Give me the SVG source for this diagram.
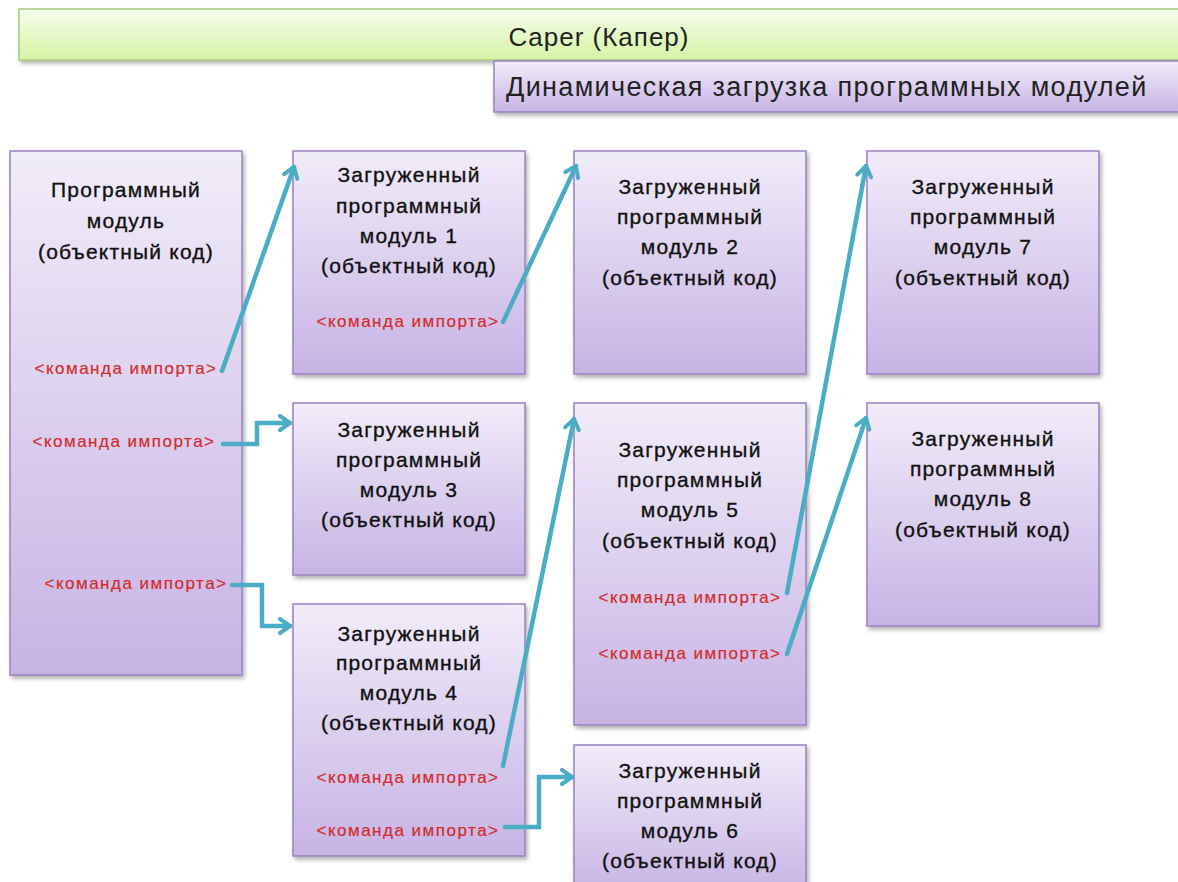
<svg xmlns="http://www.w3.org/2000/svg" width="1178" height="882" viewBox="0 0 1178 882">
<defs>
<linearGradient id="gp" x1="0" y1="0" x2="0" y2="1">
<stop offset="0" stop-color="#f1ecf9"/>
<stop offset="1" stop-color="#c7b3e5"/>
</linearGradient>
<linearGradient id="gg" x1="0" y1="0" x2="0" y2="1">
<stop offset="0" stop-color="#f5fdea"/>
<stop offset="1" stop-color="#d5f4a4"/>
</linearGradient>
<filter id="sh" x="-10%" y="-10%" width="130%" height="130%">
<feDropShadow dx="2" dy="3" stdDeviation="2" flood-color="#000" flood-opacity="0.3"/>
</filter>
<marker id="ah" viewBox="0 0 18 18" refX="14" refY="9" markerWidth="18" markerHeight="18" markerUnits="userSpaceOnUse" orient="auto">
<path d="M4,2 L14,9 L4,16" fill="none" stroke="#4bacc6" stroke-width="4" stroke-linecap="round" stroke-linejoin="round"/>
</marker>
</defs>
<style>
.box{fill:url(#gp);stroke:#9a80c2;stroke-width:1.5;filter:url(#sh)}
.t{font-family:"Liberation Sans",Arial,sans-serif;font-size:21px;letter-spacing:1.2px;fill:#111;stroke:#111;stroke-width:0.35px;text-anchor:middle}
.r{font-family:"Liberation Sans",Arial,sans-serif;font-size:17px;letter-spacing:1.5px;fill:#d42a2a;stroke:#d42a2a;stroke-width:0.2px;text-anchor:middle}
.c{fill:none;stroke:#4bacc6;stroke-width:4.5;stroke-linecap:round;stroke-linejoin:miter;marker-end:url(#ah)}
</style>
<rect width="1178" height="882" fill="#ffffff"/>

<g id="header">
<rect x="19" y="9" width="1175" height="51" fill="url(#gg)" stroke="#a8c97c" stroke-width="1.5" filter="url(#sh)"/>
<text x="599" y="46" font-family="Liberation Sans,Arial,sans-serif" font-size="26" letter-spacing="1" fill="#222" text-anchor="middle">Caper (Капер)</text>
</g>
<g id="subtitle">
<rect x="494" y="61" width="700" height="51" fill="url(#gp)" stroke="#9a80c2" stroke-width="1.5" filter="url(#sh)"/>
<text x="506" y="96" font-family="Liberation Sans,Arial,sans-serif" font-size="27" letter-spacing="1.35" fill="#222">Динамическая загрузка программных модулей</text>
</g>

<g id="main">
<rect class="box" x="10" y="151" width="232" height="524"/>
<text class="t" x="126" y="197">Программный</text>
<text class="t" x="126" y="228">модуль</text>
<text class="t" x="126" y="259">(объектный код)</text>
<text class="r" x="126" y="374">&lt;команда импорта&gt;</text>
<text class="r" x="124" y="447">&lt;команда импорта&gt;</text>
<text class="r" x="136" y="589">&lt;команда импорта&gt;</text>
</g>

<g id="m1">
<rect class="box" x="293" y="151" width="232" height="223"/>
<text class="t" x="409" y="182">Загруженный</text>
<text class="t" x="409" y="213">программный</text>
<text class="t" x="409" y="243">модуль 1</text>
<text class="t" x="409" y="273">(объектный код)</text>
<text class="r" x="408" y="327">&lt;команда импорта&gt;</text>
</g>

<g id="m2">
<rect class="box" x="574" y="151" width="232" height="223"/>
<text class="t" x="690" y="194">Загруженный</text>
<text class="t" x="690" y="224">программный</text>
<text class="t" x="690" y="254">модуль 2</text>
<text class="t" x="690" y="285">(объектный код)</text>
</g>

<g id="m7">
<rect class="box" x="867" y="151" width="232" height="223"/>
<text class="t" x="983" y="194">Загруженный</text>
<text class="t" x="983" y="224">программный</text>
<text class="t" x="983" y="254">модуль 7</text>
<text class="t" x="983" y="285">(объектный код)</text>
</g>

<g id="m3">
<rect class="box" x="293" y="403" width="232" height="172"/>
<text class="t" x="409" y="437">Загруженный</text>
<text class="t" x="409" y="467">программный</text>
<text class="t" x="409" y="497">модуль 3</text>
<text class="t" x="409" y="527">(объектный код)</text>
</g>

<g id="m5">
<rect class="box" x="574" y="403" width="232" height="322"/>
<text class="t" x="690" y="457">Загруженный</text>
<text class="t" x="690" y="487">программный</text>
<text class="t" x="690" y="517">модуль 5</text>
<text class="t" x="690" y="548">(объектный код)</text>
<text class="r" x="690" y="603">&lt;команда импорта&gt;</text>
<text class="r" x="690" y="659">&lt;команда импорта&gt;</text>
</g>

<g id="m8">
<rect class="box" x="867" y="403" width="232" height="223"/>
<text class="t" x="983" y="446">Загруженный</text>
<text class="t" x="983" y="476">программный</text>
<text class="t" x="983" y="506">модуль 8</text>
<text class="t" x="983" y="537">(объектный код)</text>
</g>

<g id="m4">
<rect class="box" x="293" y="604" width="232" height="252"/>
<text class="t" x="409" y="641">Загруженный</text>
<text class="t" x="409" y="670">программный</text>
<text class="t" x="409" y="700">модуль 4</text>
<text class="t" x="409" y="730">(объектный код)</text>
<text class="r" x="408" y="783">&lt;команда импорта&gt;</text>
<text class="r" x="408" y="836">&lt;команда импорта&gt;</text>
</g>

<g id="m6">
<rect class="box" x="574" y="745" width="232" height="150"/>
<text class="t" x="690" y="778">Загруженный</text>
<text class="t" x="690" y="808">программный</text>
<text class="t" x="690" y="838">модуль 6</text>
<text class="t" x="690" y="868">(объектный код)</text>
</g>

<g id="connectors">
<path class="c" d="M222,371 L294,167"/>
<path class="c" d="M223,444 L257,444 L257,423 L290,423"/>
<path class="c" d="M232,585 L262,585 L262,626 L290,626"/>
<path class="c" d="M503,322 L576,166"/>
<path class="c" d="M503,766 L574,419"/>
<path class="c" d="M505,827 L539,827 L539,777 L572,777"/>
<path class="c" d="M787,593 L866,166"/>
<path class="c" d="M787,654 L866,418"/>
</g>
</svg>
